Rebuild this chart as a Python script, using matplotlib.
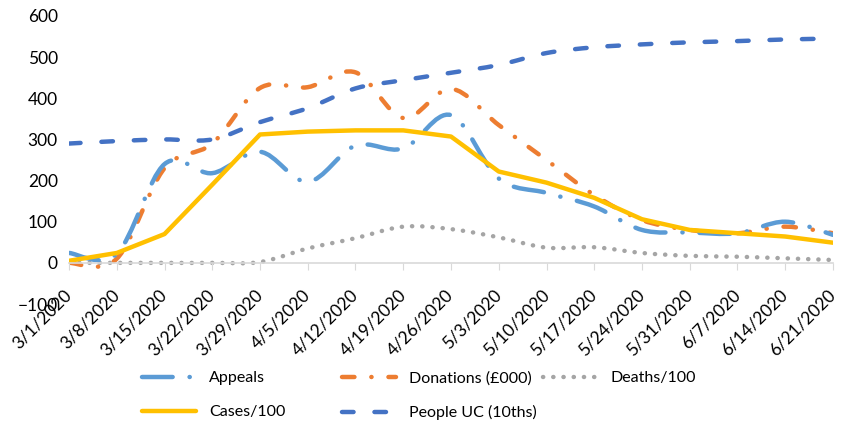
import numpy as np
import matplotlib.pyplot as plt
from matplotlib.path import Path
from matplotlib.patches import PathPatch
from matplotlib.lines import Line2D

plt.rcParams['font.family'] = ['Lato', 'DejaVu Sans']

dates = ['3/1/2020', '3/8/2020', '3/15/2020', '3/22/2020', '3/29/2020', '4/5/2020',
         '4/12/2020', '4/19/2020', '4/26/2020', '5/3/2020', '5/10/2020', '5/17/2020',
         '5/24/2020', '5/31/2020', '6/7/2020', '6/14/2020', '6/21/2020']

appeals = [24, 22, 240, 218, 270, 197, 285, 278, 359, 205, 170, 137, 80, 74, 72, 100, 68]
donations = [0, 10, 230, 290, 425, 427, 463, 352, 423, 335, 250, 165, 104, 80, 72, 88, 72]
deaths = [0, 0, 0, 0, 2, 35, 60, 88, 82, 62, 37, 38, 24, 17, 15, 11, 7]
cases = [5, 24, 70, 190, 312, 319, 322, 322, 307, 222, 195, 158, 106, 80, 72, 64, 49]
people_uc = [290, 296, 300, 300, 342, 376, 424, 444, 462, 481, 510, 524, 531, 536, 539, 543, 545]

c_appeals = '#5B9BD5'
c_donations = '#ED7D31'
c_deaths = '#A5A5A5'
c_cases = '#FFC000'
c_uc = '#4472C4'

LW = 3.2
W, H = 843, 423


def smooth_patch(ax, x, y, color, dashes):
    # Excel-style smoothed line: cubic bezier through each point
    x = np.asarray(x, float)
    y = np.asarray(y, float)
    n = len(x)
    verts = [(x[0], y[0])]
    codes = [Path.MOVETO]
    for i in range(n - 1):
        p0 = max(i - 1, 0)
        p3 = min(i + 2, n - 1)
        c1 = (x[i] + (x[i + 1] - x[p0]) / 6, y[i] + (y[i + 1] - y[p0]) / 6)
        c2 = (x[i + 1] - (x[p3] - x[i]) / 6, y[i + 1] - (y[p3] - y[i]) / 6)
        verts += [c1, c2, (x[i + 1], y[i + 1])]
        codes += [Path.CURVE4] * 3
    patch = PathPatch(Path(verts, codes), fill=False, edgecolor=color, lw=LW,
                      linestyle=(0, dashes), capstyle='round', joinstyle='round')
    ax.add_patch(patch)


fig = plt.figure(figsize=(W / 100, H / 100), dpi=100)
ax = fig.add_axes([69 / W, 1 - 304 / H, (833 - 69) / W, (304 - 16) / H])

x = np.arange(len(dates))

dash_appeals = (6.9, 3.8, 0.05, 3.8)
dash_donations = (2.8, 3.8, 0.05, 3.8)
dash_deaths = (0.05, 2.25)
dash_uc = (2.6, 4.7)

smooth_patch(ax, x, deaths, c_deaths, dash_deaths)
smooth_patch(ax, x, people_uc, c_uc, dash_uc)
smooth_patch(ax, x, donations, c_donations, dash_donations)
smooth_patch(ax, x, appeals, c_appeals, dash_appeals)
ax.plot(x, cases, color=c_cases, lw=LW, solid_capstyle='round', solid_joinstyle='round')

ax.set_xlim(0, len(dates) - 1)
ax.set_ylim(-100, 600)
ax.set_yticks(range(-100, 601, 100))
ax.set_xticks(x)
ax.set_xticklabels(dates)

for s in ['top', 'right', 'left']:
    ax.spines[s].set_visible(False)
ax.spines['bottom'].set_position(('data', 0))
ax.spines['bottom'].set_color('#D9D9D9')
ax.spines['bottom'].set_linewidth(1.2)
ax.tick_params(axis='y', length=0, labelsize=12.5, pad=8)
ax.tick_params(axis='x', direction='out', length=5, color='#D9D9D9', labelsize=12.5, pad=16)
for lab in ax.get_xticklabels():
    lab.set_rotation(45)
    lab.set_ha('right')
    lab.set_va('center')
    lab.set_rotation_mode('anchor')

h_appeals = Line2D([], [], color=c_appeals, lw=LW, linestyle=(0, dash_appeals), dash_capstyle='round')
h_cases = Line2D([], [], color=c_cases, lw=LW, solid_capstyle='round')
h_donations = Line2D([], [], color=c_donations, lw=LW, linestyle=(0, dash_donations), dash_capstyle='round')
h_uc = Line2D([], [], color=c_uc, lw=LW, linestyle=(0, dash_uc), dash_capstyle='round')
h_deaths = Line2D([], [], color=c_deaths, lw=LW, linestyle=(0, dash_deaths), dash_capstyle='round')

# Excel lays the legend out in equal-width columns, so one legend per column
columns = [
    (142, [h_appeals, h_cases], ['Appeals', 'Cases/100']),
    (342, [h_donations, h_uc], ['Donations (£000)', 'People UC (10ths)']),
    (543, [h_deaths], ['Deaths/100']),
]
for left, hs, ls in columns:
    leg = fig.legend(hs, ls, loc='upper left', bbox_to_anchor=(left / W, 1 - 371 / H),
                     frameon=False, fontsize=11.5, handlelength=3.4, handletextpad=0.8,
                     labelspacing=1.25, borderpad=0, borderaxespad=0)

fig.savefig('out.png', dpi=100)
